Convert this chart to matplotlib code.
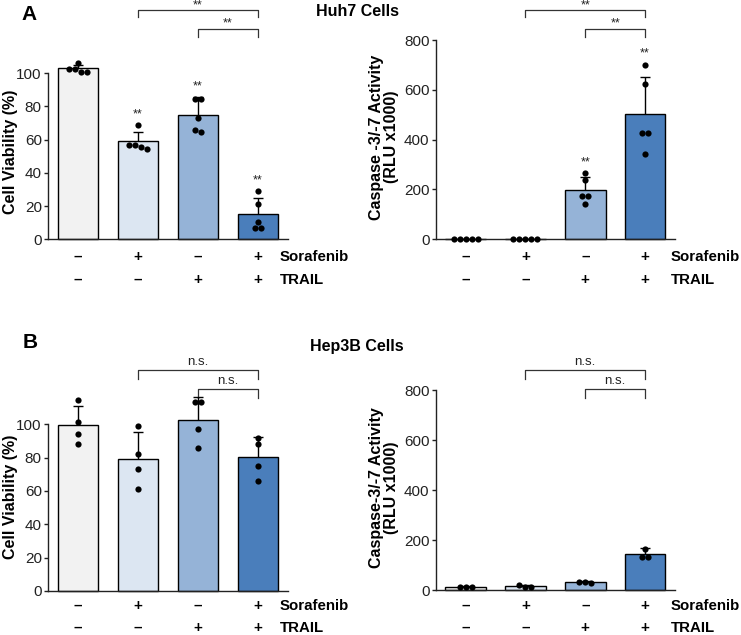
import numpy as np
import matplotlib.pyplot as plt
from matplotlib.transforms import blended_transform_factory

plt.rcParams['font.family'] = ['Liberation Sans', 'DejaVu Sans']

# data
sorafenib = ['–', '+', '–', '+']
trail = ['–', '–', '+', '+']

huh7_viab_mean = [103.2, 59.2, 74.8, 15.0]
huh7_viab_sd = [2.0, 5.6, 10.8, 10.0]
huh7_viab_pts = [[106.5, 102.5, 102.5, 101, 101],
                 [68.8, 56.8, 55.6, 54.4, 56.8],
                 [84.8, 84.8, 73.2, 65.6, 64.4],
                 [28.8, 21.2, 10.6, 6.6, 6.6]]
huh7_viab_sig = ['', '**', '**', '**']

huh7_casp_mean = [2, 2, 196.5, 504]
huh7_casp_sd = [0.5, 0.5, 53.5, 149]
huh7_casp_pts = [[2, 2, 2, 2, 2],
                 [2, 2, 2, 2, 2],
                 [264.7, 236.6, 175, 175, 143],
                 [700, 622, 428, 428, 342.5]]
huh7_casp_sig = ['', '', '**', '**']

hep3b_viab_mean = [99.8, 79.0, 102.4, 80.2]
hep3b_viab_sd = [11.4, 16.2, 13.8, 12.4]
hep3b_viab_pts = [[114.6, 101.6, 94.2, 88],
                  [99.2, 82.2, 73.2, 61.2],
                  [113.6, 113.6, 97, 85.8],
                  [91.6, 88.2, 75, 66.2]]

hep3b_casp_mean = [13.3, 16, 30.7, 144]
hep3b_casp_sd = [1.5, 4, 4, 24]
hep3b_casp_pts = [[10.7, 10.7, 10.7],
                  [10.7, 13.3, 18.7],
                  [34, 28, 34],
                  [164, 131, 131]]

colors = ['#f2f2f2', '#dce6f2', '#95b3d7', '#4a7ebb']

W, H = 741, 635
fig = plt.figure(figsize=(W / 100, H / 100), dpi=100)


def rect(l, t, r, b):
    return [l / W, 1 - b / H, (r - l) / W, (b - t) / H]


def fy(y):
    return 1 - y / H


def swarm(vals, tol, step):
    # spread dots that sit at (nearly) the same height side by side
    vals = np.asarray(vals, float)
    order = np.argsort(-vals, kind='stable')
    clusters = []
    for i in order:
        if clusters and abs(vals[clusters[-1][-1]] - vals[i]) < tol:
            clusters[-1].append(i)
        else:
            clusters.append([i])
    offs = np.zeros(len(vals))
    for c in clusters:
        n = len(c)
        for k, i in enumerate(c):
            offs[i] = (k - (n - 1) / 2) * step
    return offs


def panel(ax, means, sds, pts, ymax, yticks, height_px, sig=None):
    x = np.arange(len(means))
    means = np.asarray(means, float)
    sds = np.asarray(sds, float)
    ax.bar(x, means, width=0.68, color=colors, edgecolor='black',
           linewidth=1.0, zorder=2, clip_on=False)
    tops = means + sds
    ax.vlines(x, means, tops, color='black', lw=1.0, zorder=3, clip_on=False)
    ax.hlines(tops, x - 0.085, x + 0.085, color='black', lw=1.0, zorder=3,
              clip_on=False)
    tol = 5 * ymax / height_px
    for i, p in enumerate(pts):
        offs = swarm(p, tol, 0.1)
        ax.scatter(i + offs, p, s=20, color='black', zorder=4,
                   clip_on=False, linewidths=0)
    if sig:
        for i, s in enumerate(sig):
            if s:
                top = max(max(pts[i]), tops[i])
                ax.annotate(s, (i, top), xytext=(0, 8),
                            textcoords='offset points', ha='center',
                            va='center', fontsize=9, color='#222')
    ax.set_xlim(-0.5, 3.5)
    ax.set_ylim(0, ymax)
    ax.set_yticks(yticks)
    ax.set_xticks([])
    for s in ['top', 'right']:
        ax.spines[s].set_visible(False)
    for s in ['left', 'bottom']:
        ax.spines[s].set_linewidth(1.0)
        ax.spines[s].set_color('#222')
    ax.tick_params(axis='y', length=3, width=1.0, pad=1.5, labelsize=11,
                   colors='#222')
    ax.set_facecolor('none')


def bracket(ax, x0, x1, y_line, y_drop, y_text, label):
    tr = blended_transform_factory(ax.transData, fig.transFigure)
    ax.plot([x0, x0, x1, x1], [fy(y_drop), fy(y_line), fy(y_line), fy(y_drop)],
            transform=tr, clip_on=False, color='#333', lw=0.9)
    ax.text((x0 + x1) / 2, fy(y_text), label, transform=tr, ha='center',
            va='center', fontsize=9.5 if label == 'n.s.' else 9, color='#222')


def treatment_rows(ax, y1, y2, xlab):
    tr = blended_transform_factory(ax.transData, fig.transFigure)
    for i in range(4):
        ax.text(i, fy(y1), sorafenib[i], transform=tr, ha='center',
                va='center', fontsize=11, fontweight='bold')
        ax.text(i, fy(y2), trail[i], transform=tr, ha='center',
                va='center', fontsize=11, fontweight='bold')
    fig.text(xlab / W, fy(y1), 'Sorafenib', ha='left', va='center',
             fontsize=10.8, fontweight='bold')
    fig.text(xlab / W, fy(y2), 'TRAIL', ha='left', va='center',
             fontsize=10.8, fontweight='bold')


axA1 = fig.add_axes(rect(48, 73.3, 288, 239.3))
axA2 = fig.add_axes(rect(435.7, 40, 675, 239.3))
axB1 = fig.add_axes(rect(48, 424.3, 288, 591))
axB2 = fig.add_axes(rect(435.7, 390, 675, 590))

panel(axA1, huh7_viab_mean, huh7_viab_sd, huh7_viab_pts, 100,
      [0, 20, 40, 60, 80, 100], 166, huh7_viab_sig)
panel(axA2, huh7_casp_mean, huh7_casp_sd, huh7_casp_pts, 800,
      [0, 200, 400, 600, 800], 199.3, huh7_casp_sig)
panel(axB1, hep3b_viab_mean, hep3b_viab_sd, hep3b_viab_pts, 100,
      [0, 20, 40, 60, 80, 100], 166.7)
panel(axB2, hep3b_casp_mean, hep3b_casp_sd, hep3b_casp_pts, 800,
      [0, 200, 400, 600, 800], 200)

# significance brackets
for ax in (axA1, axA2):
    bracket(ax, 1, 3, 10, 17, 5, '**')
    bracket(ax, 2, 3, 29, 37, 23, '**')
for ax in (axB1, axB2):
    bracket(ax, 1, 3, 370, 379, 362, 'n.s.')
    bracket(ax, 2, 3, 389, 398, 381, 'n.s.')

treatment_rows(axA1, 257, 280, 280)
treatment_rows(axA2, 257, 280, 671)
treatment_rows(axB1, 606, 628, 280)
treatment_rows(axB2, 606, 628, 671)

# y labels
fig.text(10.5 / W, fy(152), 'Cell Viability (%)', rotation=90, ha='center',
         va='center', fontsize=11.5, fontweight='bold')
fig.text(10.5 / W, fy(497), 'Cell Viability (%)', rotation=90, ha='center',
         va='center', fontsize=11.5, fontweight='bold')
fig.text(384 / W, fy(137), 'Caspase -3/-7 Activity\n(RLU x1000)', rotation=90,
         ha='center', va='center', fontsize=11.5, fontweight='bold',
         linespacing=1.05, multialignment='center')
fig.text(384 / W, fy(488), 'Caspase-3/-7 Activity\n(RLU x1000)', rotation=90,
         ha='center', va='center', fontsize=11.5, fontweight='bold',
         linespacing=1.05, multialignment='center')

# titles and panel letters
fig.text(357 / W, fy(12), 'Huh7 Cells', ha='center', va='center',
         fontsize=11.5, fontweight='bold')
fig.text(357 / W, fy(347), 'Hep3B Cells', ha='center', va='center',
         fontsize=11.5, fontweight='bold')
fig.text(29.5 / W, fy(15), 'A', ha='center', va='center', fontsize=15,
         fontweight='bold')
fig.text(30 / W, fy(342.5), 'B', ha='center', va='center', fontsize=15,
         fontweight='bold')

fig.savefig('out.png', dpi=100)
